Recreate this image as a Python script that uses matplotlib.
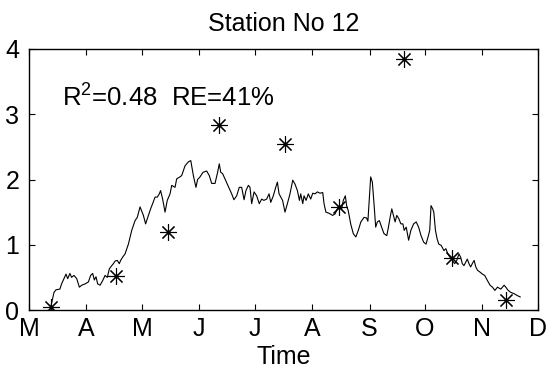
import matplotlib
matplotlib.use("Agg")
import matplotlib.pyplot as plt

plt.rcParams['font.family'] = ['Liberation Sans', 'DejaVu Sans']
plt.rcParams['mathtext.default'] = 'regular'

# simulated daily series (days since 1 March)
sim_day = [11.7, 13.5, 14.6, 16.7, 17.6, 20.0, 20.9, 22.1, 23.0, 24.3,
           25.8, 27.2, 28.5, 30.3, 32.1, 33.3, 34.4, 35.3, 36.2, 37.1,
           38.4, 39.8, 41.1, 42.3, 43.4, 44.7, 45.6, 46.5, 47.7, 48.8,
           49.5, 50.6, 51.9, 53.7, 55.5, 57.3, 58.5, 60.0, 61.8, 63.0,
           64.5, 65.7, 66.8, 68.1, 69.3, 70.4, 71.1, 72.2, 73.5, 74.7,
           76.2, 77.1, 78.9, 79.8, 81.0, 82.5, 84.3, 86.1, 87.4, 88.8,
           90.2, 91.1, 92.4, 94.0, 96.0, 97.4, 98.7, 100.5, 101.9, 102.8,
           103.6, 104.6, 106.8, 108.2, 109.5, 110.7, 112.2, 113.6, 114.9, 116.2,
           117.2, 118.5, 119.4, 120.3, 121.6, 123.0, 124.4, 125.7, 126.9, 128.4,
           129.7, 130.6, 132.0, 133.3, 134.2, 135.1, 137.0, 138.3, 139.6, 141.0,
           142.5, 143.7, 145.0, 146.1, 146.8, 147.9, 148.6, 149.7, 150.9, 152.2,
           153.3, 154.5, 155.8, 157.2, 158.7, 159.4, 160.4, 162.3, 164.0, 165.3,
           166.6, 167.7, 168.9, 169.8, 170.9, 171.6, 172.5, 173.8, 175.2, 176.6,
           177.9, 179.3, 181.0, 182.4, 183.1, 183.9, 184.6, 185.5, 186.4, 187.3,
           188.2, 189.3, 190.5, 191.8, 193.3, 194.2, 195.1, 196.0, 196.9, 197.8,
           198.7, 199.8, 200.9, 202.0, 202.7, 203.8, 205.1, 206.3, 207.8, 209.2,
           210.5, 211.8, 213.2, 214.5, 215.6, 216.5, 217.2, 218.1, 218.7, 219.6,
           220.5, 221.4, 222.7, 224.2, 225.2, 226.3, 227.4, 228.7, 230.0, 231.1,
           232.3, 233.2, 234.1, 235.0, 235.9, 236.8, 237.7, 238.6, 239.5, 240.5,
           241.4, 242.3, 243.7, 245.0, 246.2, 247.7, 249.1, 250.4, 251.7, 253.1,
           254.9, 256.7, 257.6, 258.9, 260.3, 262.1, 263.9, 265.4]
sim_val = [0.04, 0.27, 0.31, 0.32, 0.40, 0.55, 0.48, 0.56, 0.50, 0.53,
           0.48, 0.35, 0.38, 0.40, 0.43, 0.53, 0.56, 0.46, 0.51, 0.40,
           0.38, 0.45, 0.53, 0.50, 0.63, 0.68, 0.71, 0.75, 0.76, 0.71,
           0.76, 0.81, 0.86, 1.01, 1.22, 1.37, 1.42, 1.58, 1.45, 1.32,
           1.45, 1.55, 1.63, 1.73, 1.73, 1.78, 1.83, 1.70, 1.50, 1.68,
           1.78, 1.91, 1.88, 2.01, 2.03, 2.06, 2.21, 2.27, 2.29, 2.06,
           1.88, 2.00, 2.04, 2.11, 2.13, 2.06, 1.94, 1.94, 2.11, 2.24,
           2.11, 2.09, 1.95, 1.86, 1.78, 1.69, 1.75, 1.88, 1.88, 1.69,
           1.83, 1.91, 1.88, 1.63, 1.81, 1.75, 1.63, 1.70, 1.68, 1.70,
           1.78, 1.65, 1.75, 1.88, 1.96, 1.78, 1.68, 1.50, 1.63, 1.78,
           1.99, 1.93, 1.83, 1.68, 1.78, 1.63, 1.75, 1.68, 1.78, 1.70,
           1.79, 1.78, 1.81, 1.79, 1.80, 1.63, 1.50, 1.48, 1.45, 1.47,
           1.55, 1.60, 1.55, 1.68, 1.75, 1.60, 1.52, 1.32, 1.17, 1.12,
           1.22, 1.35, 1.42, 1.41, 1.36, 1.73, 2.04, 1.96, 1.63, 1.27,
           1.35, 1.37, 1.27, 1.17, 1.14, 1.27, 1.42, 1.55, 1.45, 1.35,
           1.45, 1.40, 1.32, 1.32, 1.22, 1.27, 1.07, 1.22, 1.32, 1.35,
           1.27, 1.14, 1.04, 1.01, 1.12, 1.22, 1.60, 1.55, 1.50, 1.22,
           1.09, 1.01, 0.99, 0.91, 0.94, 0.86, 0.81, 0.76, 0.71, 0.76,
           0.86, 0.81, 0.71, 0.68, 0.73, 0.78, 0.71, 0.66, 0.71, 0.76,
           0.66, 0.61, 0.58, 0.55, 0.53, 0.45, 0.38, 0.35, 0.30, 0.35,
           0.32, 0.38, 0.35, 0.30, 0.27, 0.25, 0.22, 0.20]

# observations
obs_day = [11.7, 47.0, 75.3, 102.8, 138.4, 167.6, 202.7, 228.8, 257.7]
obs_val = [0.05, 0.52, 1.20, 2.84, 2.54, 1.58, 3.84, 0.79, 0.15]

month_start = [0, 31, 61, 92, 122, 153, 184, 214, 245, 275]
month_lbl = ['M', 'A', 'M', 'J', 'J', 'A', 'S', 'O', 'N', 'D']

fig = plt.figure(figsize=(5.5, 3.78), dpi=100)
ax = fig.add_axes([29/550, 1-310/378, 509/550, 261/378])

ax.plot(sim_day, sim_val, '-', color='k', lw=0.8)
ax.plot(obs_day, obs_val, linestyle='none', marker=(8, 2, 0),
        markersize=12, markeredgewidth=0.8, color='k')

ax.text(0.064, 0.78, r'R$^2$=0.48  RE=41%', transform=ax.transAxes,
        fontsize=18.5, ha='left', va='baseline')

ax.set_xlim(0, 275)
ax.set_ylim(0, 4)
ax.set_xticks(month_start)
ax.set_xticklabels(month_lbl)
ax.set_yticks([0, 1, 2, 3, 4])
ax.tick_params(direction='in', length=4, width=0.8, top=True, right=True,
               labelsize=18)
ax.tick_params(axis='y', pad=7)
ax.tick_params(axis='x', pad=5)
for s in ax.spines.values():
    s.set_linewidth(1.0)
ax.set_xlabel('Time', fontsize=18, labelpad=3)
ax.set_title('Station No 12', fontsize=18, pad=13)

fig.savefig('out.png', dpi=100)
